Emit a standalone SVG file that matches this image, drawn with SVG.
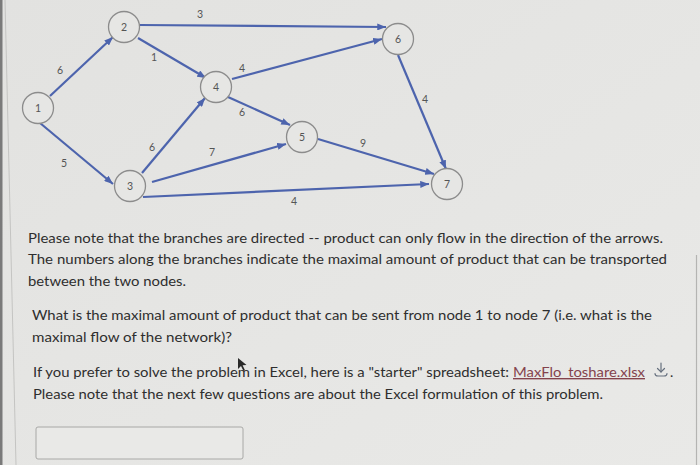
<svg xmlns="http://www.w3.org/2000/svg" width="700" height="465" viewBox="0 0 700 465">
  <defs>
    <linearGradient id="bg" x1="0" y1="0" x2="1" y2="1">
      <stop offset="0" stop-color="#e2e2e0"/>
      <stop offset="1" stop-color="#e9e9e7"/>
    </linearGradient>
    <marker id="arr" viewBox="0 0 10 8" refX="10" refY="4" markerWidth="9" markerHeight="7" markerUnits="userSpaceOnUse" orient="auto">
      <path d="M0,0 L10,4 L0,8 Z" fill="#4d64ad"/>
    </marker>
    <style>
      .edge { stroke: #4d64ad; stroke-width: 2.2; fill: none; marker-end: url(#arr); }
      .node circle { fill: #e6e6e4; stroke: #8c8c8c; stroke-width: 1.3; }
      .node text { font-family: Lato, "Liberation Sans", sans-serif; font-size: 10.5px; fill: #555; text-anchor: middle; }
      .lbl { font-family: Lato, "Liberation Sans", sans-serif; font-size: 10.5px; fill: #555; text-anchor: middle; }
      .para { font-family: Lato, "Open Sans", "Liberation Sans", sans-serif; font-size: 13.8px; fill: #2e2e2e; }
      .link { fill: #84434d; text-decoration: underline; }
    </style>
  </defs>
  <rect x="0" y="0" width="700" height="465" fill="url(#bg)"/>
  <rect x="0" y="0" width="2.5" height="465" fill="#7a7a7a"/>
  <line x1="5" y1="0" x2="16" y2="465" stroke="#c4c4c2" stroke-width="1"/>
  <line x1="696.5" y1="255" x2="696.5" y2="465" stroke="#b4b4b2" stroke-width="1.2"/>

  <g id="connectors">
    <line class="edge" x1="50" y1="96" x2="113" y2="37"/>
    <line class="edge" x1="40" y1="123" x2="113" y2="184"/>
    <line class="edge" x1="138" y1="38" x2="206" y2="78"/>
    <line class="edge" x1="140" y1="25" x2="386" y2="27"/>
    <line class="edge" x1="142" y1="173" x2="205" y2="98"/>
    <line class="edge" x1="152" y1="182" x2="286" y2="144"/>
    <line class="edge" x1="143" y1="197" x2="429" y2="184"/>
    <line class="edge" x1="228" y1="97" x2="290" y2="125"/>
    <line class="edge" x1="232" y1="79" x2="382" y2="39"/>
    <line class="edge" x1="318" y1="139" x2="434" y2="174"/>
    <line class="edge" x1="398" y1="55" x2="446" y2="169"/>
  </g>

  <g id="edge-labels">
    <text class="lbl" x="200" y="18">3</text>
    <text class="lbl" x="154" y="61">1</text>
    <text class="lbl" x="60" y="74">6</text>
    <text class="lbl" x="64" y="167">5</text>
    <text class="lbl" x="152" y="151">6</text>
    <text class="lbl" x="212" y="156">7</text>
    <text class="lbl" x="242" y="72">4</text>
    <text class="lbl" x="242" y="116">6</text>
    <text class="lbl" x="363" y="147">9</text>
    <text class="lbl" x="425" y="103">4</text>
    <text class="lbl" x="294" y="205">4</text>
  </g>

  <g id="node1" class="node"><circle cx="38" cy="108" r="15.5"/><text x="38" y="111.5">1</text></g>
  <g id="node2" class="node"><circle cx="124" cy="27" r="15.5"/><text x="124" y="30.5">2</text></g>
  <g id="node3" class="node"><circle cx="130" cy="186" r="15.5"/><text x="130" y="189.5">3</text></g>
  <g id="node4" class="node"><circle cx="216" cy="87" r="15.5"/><text x="216" y="90.5">4</text></g>
  <g id="node5" class="node"><circle cx="302" cy="137" r="15.5"/><text x="302" y="140.5">5</text></g>
  <g id="node6" class="node"><circle cx="398" cy="39" r="15.5"/><text x="398" y="42.5">6</text></g>
  <g id="node7" class="node"><circle cx="447" cy="184" r="15.5"/><text x="447" y="187.5">7</text></g>

  <g id="question">
    <text class="para" x="28" y="243" textLength="635" lengthAdjust="spacingAndGlyphs">Please note that the branches are directed -- product can only flow in the direction of the arrows.</text>
    <text class="para" x="28" y="264" textLength="639" lengthAdjust="spacingAndGlyphs">The numbers along the branches indicate the maximal amount of product that can be transported</text>
    <text class="para" x="28" y="286" textLength="158" lengthAdjust="spacingAndGlyphs">between the two nodes.</text>
    <text class="para" x="32" y="320" textLength="620" lengthAdjust="spacingAndGlyphs">What is the maximal amount of product that can be sent from node 1 to node 7 (i.e. what is the</text>
    <text class="para" x="32" y="342" textLength="200" lengthAdjust="spacingAndGlyphs">maximal flow of the network)?</text>
    <text class="para" x="33" y="377" textLength="476" lengthAdjust="spacingAndGlyphs">If you prefer to solve the problem in Excel, here is a "starter" spreadsheet:</text>
    <text class="para link" x="513" y="377" textLength="132" lengthAdjust="spacingAndGlyphs">MaxFlo_toshare.xlsx</text>
    <text class="para" x="670" y="377">.</text>
    <text class="para" x="33" y="399" textLength="570" lengthAdjust="spacingAndGlyphs">Please note that the next few questions are about the Excel formulation of this problem.</text>
  </g>

  <g id="download-icon" stroke="#66707e" stroke-width="1.2" fill="none" stroke-linecap="round">
    <line x1="661" y1="363" x2="661" y2="372"/>
    <polyline points="657.5,368.5 661,372 664.5,368.5"/>
    <path d="M655,373.5 Q655,376 658,376 L664,376 Q667,376 667,373.5"/>
  </g>

  <polygon id="cursor" points="238,358 238,369 241,366 243.5,371 245,370.3 242.6,365.3 246.5,365" fill="#2a2a2a"/>

  <rect id="answer-box" x="36" y="427" width="207" height="32" rx="2" fill="#e9e9e7" stroke="#a8a8a6" stroke-width="1"/>
</svg>
